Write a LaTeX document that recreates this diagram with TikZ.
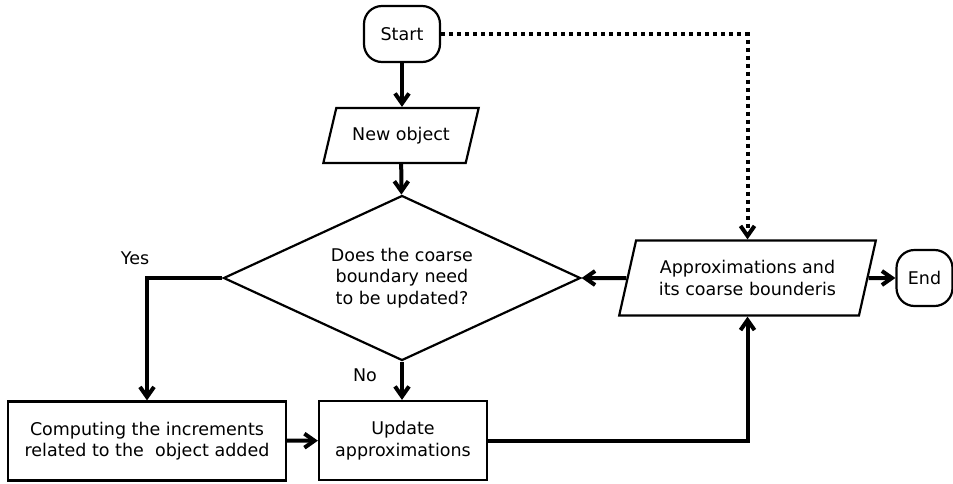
\documentclass[tikz,border=0pt]{standalone}
\usepackage{fontspec}
\setmainfont{DejaVu Sans}
\setsansfont{DejaVu Sans}
\usetikzlibrary{arrows.meta,positioning,shapes.geometric}
\definecolor{fcedge}{RGB}{0,0,0}
\tikzset{
  fcbox/.style={
    draw=fcedge, line width=1.1pt, align=center, inner sep=2pt,
    fill=white, font=\fontsize{8.75}{10.8}\selectfont
  },
  term/.style={fcbox, rounded corners=9pt, minimum width=38pt, minimum height=28pt},
  proc/.style={fcbox, minimum height=39.5pt},
  io/.style={fcbox, trapezium, trapezium stretches=true},
  decide/.style={fcbox, diamond, aspect=2.16, inner sep=0pt, minimum width=178.5pt, minimum height=82.5pt},
  arr/.style={-{Straight Barb[length=5pt,width=7pt]}, draw=fcedge, line width=2pt},
  darr/.style={arr, dash pattern=on 2pt off 2pt},
  anno/.style={font=\fontsize{8.75}{10.8}\selectfont, inner sep=1pt}
}

\begin{document}
\begin{tikzpicture}[x=0.5pt, y=-0.5pt]
  \useasboundingbox (0,0) rectangle (953,483);
  \node[term] (start) at (402,34) {Start};
  \node[io, trapezium left angle=67, trapezium right angle=113,
        minimum width=78pt, minimum height=27.5pt] (newobj) at (401,135.5) {New object};
  \node[decide] (upd?) at (402,278) {Does the coarse\\boundary need\\to be updated?};
  \node[proc, minimum width=139pt] (comp) at (147,441) {Computing the increments\\related to the\ \ object added};
  \node[proc, minimum width=84pt] (upd) at (403,440.5) {Update\\approximations};
  \node[io, trapezium left angle=72, trapezium right angle=108,
        minimum width=128.5pt, minimum height=37.5pt] (appr) at (747.5,278) {Approximations and\\its coarse bounderis};
  \node[term, minimum width=28pt] (end) at (924.5,278) {End};
  \node[anno] (yes) at (135,258) {Yes};
  \node[anno] (no) at (365,375) {No};
  \draw[arr] (start) -- (start |- newobj.north);
  \draw[arr] (newobj) -- (upd?);
  \draw[arr] (upd?.west) -| (comp.north);
  \draw[arr] (upd?.south) -- (upd?.south |- upd.north);
  \draw[arr] (comp) -- (upd);
  \draw[arr] (upd.east) -| (appr.south);
  \draw[arr] (appr.west) -- (upd?.east);
  \draw[arr] (appr.east) -- (end.west);
  \draw[darr] (start.east) -| (appr.north);
\end{tikzpicture}
\end{document}
